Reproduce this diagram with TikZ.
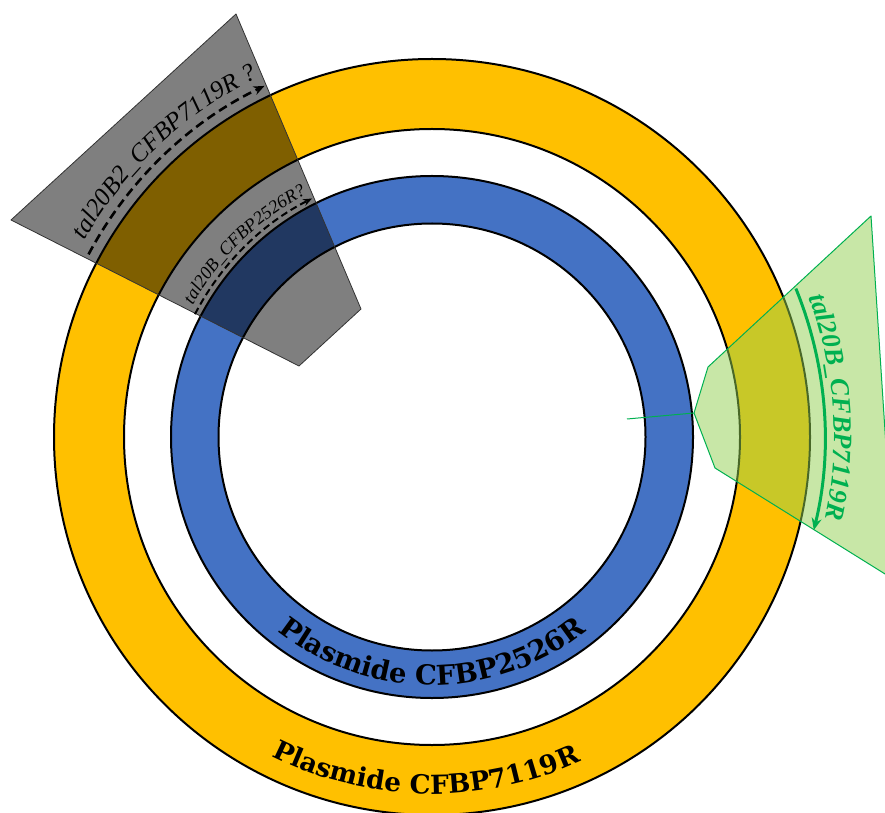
\documentclass[tikz,border=0pt]{standalone}
\usepackage{fontspec}
\setmainfont{DejaVu Serif}
\newfontfamily\labelserif{Liberation Serif}
\usetikzlibrary{decorations.text,arrows.meta}
\definecolor{ringorange}{HTML}{FFC000}
\definecolor{ringblue}{HTML}{4472C4}
\definecolor{hlgreen}{HTML}{92D050}
\definecolor{lngreen}{HTML}{00B050}
\newcommand\ringlabelfont{\bfseries\fontsize{27.4}{30}\selectfont}
\newcommand\outerlabelfont{\bfseries\fontsize{26.3}{30}\selectfont}
\newcommand\biglabelfont{\labelserif\itshape\fontsize{25.3}{28}\selectfont}
\newcommand\smalllabelfont{\labelserif\itshape\fontsize{18.3}{20}\selectfont}
\newcommand\greenlabelfont{\color{lngreen}\labelserif\bfseries\itshape\fontsize{26.5}{28}\selectfont}
\tikzset{
  ringline/.style={draw=black, line width=2pt},
  grayhl/.style={fill=black, fill opacity=0.5, draw=black!80, line width=0.8pt, line join=round},
  greenhl/.style={fill=hlgreen, fill opacity=0.5, draw=lngreen, line width=1pt, line join=round},
  bigdash/.style={draw=black, line width=2.6pt, dash pattern=on 9pt off 5pt, -{Stealth[length=11pt,width=9pt]}},
  smalldash/.style={draw=black, line width=2pt, dash pattern=on 7pt off 4pt, -{Stealth[length=9pt,width=7pt]}},
  greenarrow/.style={draw=lngreen, line width=3pt, -{Stealth[length=12pt,width=10pt]}}
}
\begin{document}
\begin{tikzpicture}[x=1pt,y=1pt]
\useasboundingbox (0,0) rectangle (885,812);
\clip (0,0) rectangle (885,812);
\coordinate (C) at (432,375);

% orange ring
\fill[ringorange, even odd rule] (C) circle[radius=378] (C) circle[radius=308];
\draw[ringline] (C) circle[radius=378] (C) circle[radius=308];
% blue ring
\fill[ringblue, even odd rule] (C) circle[radius=261] (C) circle[radius=213.5];
\draw[ringline] (C) circle[radius=261] (C) circle[radius=213.5];

% ring labels
\path[decorate, decoration={text along path, text align=center,
  text={|\ringlabelfont|Plasmide CFBP2526R}}]
  (C) ++(200:248) arc[start angle=200, end angle=340, radius=248];
\path[decorate, decoration={text along path, text align=center,
  text={|\outerlabelfont|Plasmide CFBP7119R}}]
  (C) ++(220:357) arc[start angle=220, end angle=318, radius=357];

% gray highlight
\coordinate (ga) at (236,798);
\coordinate (gb) at (11,592);
\coordinate (gc) at (299,446);
\coordinate (gd) at (361,503);
\path[grayhl] (ga) -- (gb) -- (gc) -- (gd) -- cycle;

% green highlight
\coordinate (ha) at (871,596);
\coordinate (hb) at (708,445);
\coordinate (hc) at (694,399);
\coordinate (hd) at (715,344);
\coordinate (he) at (894.7,232);
\coordinate (hstub) at (627,393);
\path[greenhl] (ha) -- (hb) -- (hc) -- (hd) -- (he) -- cycle;
\draw[lngreen, line width=1pt] (hc) -- (hstub);

% arrows
\draw[bigdash] (C) ++(152:389) arc[start angle=152, end angle=115.5, radius=389];
\draw[smalldash] (C) ++(152.6:267) arc[start angle=152.6, end angle=116.7, radius=267];
\draw[greenarrow] (C) ++(22.2:393) arc[start angle=22.2, end angle=-13.7, radius=393];

% labels
\path[decorate, decoration={text along path, text align=center,
  text={|\biglabelfont|tal20B2{\_}CFBP7119R ?}}]
  (C) ++(170:399) arc[start angle=170, end angle=96.4, radius=399];
\path[decorate, decoration={text along path, text align=center,
  text={|\smalllabelfont|tal20B{\_}CFBP2526R?}}]
  (C) ++(165:273) arc[start angle=165, end angle=103.5, radius=273];
\path[decorate, decoration={text along path, text align=center,
  text={|\greenlabelfont|tal20B{\_}CFBP7119R}}]
  (C) ++(40:402) arc[start angle=40, end angle=-31.4, radius=402];
\end{tikzpicture}
\end{document}
